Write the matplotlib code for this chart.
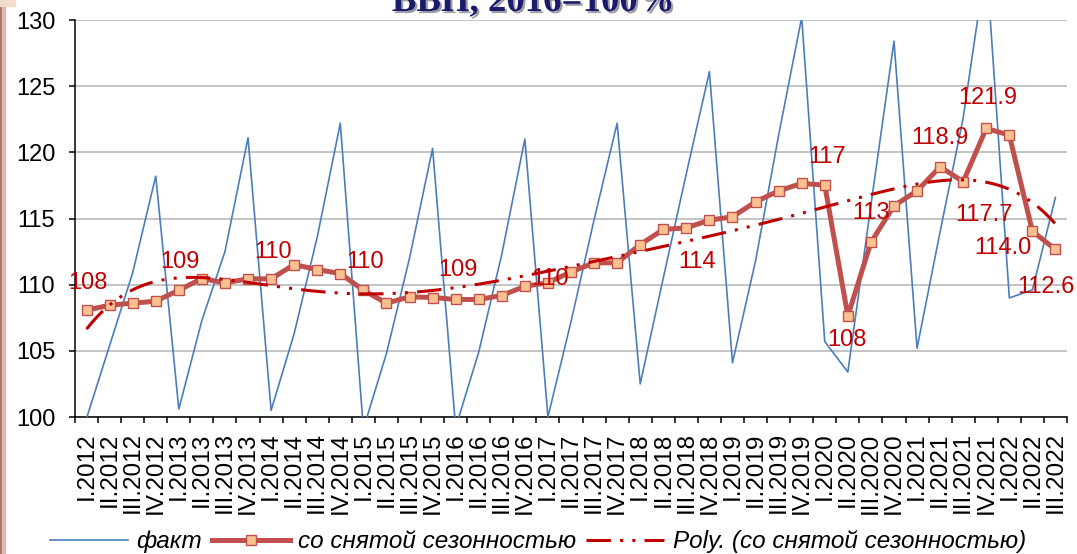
import numpy as np
import matplotlib
matplotlib.use("Agg")
import matplotlib.pyplot as plt
import matplotlib.patheffects as pe
from matplotlib.patches import Rectangle

# quarters I.2012 .. III.2022
years = list(range(2012, 2023))
roman = ["I", "II", "III", "IV"]
quarters = [r + "." + str(y) for y in years for r in roman][:43]

# actual values (факт)
fact = [99.9, 105.4, 110.9, 118.2, 100.6, 107.3, 112.5, 121.1,
        100.5, 106.3, 113.6, 122.2, 99.1, 104.8, 112.0, 120.3,
        99.2, 104.9, 112.3, 121.0, 100.0, 107.2, 114.9, 122.2,
        102.5, 110.5, 118.4, 126.1, 104.1, 111.8, 121.3, 130.2,
        105.7, 103.4, 116.0, 128.4, 105.2, 114.0, 122.6, 134.5,
        109.0, 109.6, 116.6]

# seasonally adjusted (со снятой сезонностью)
sa = [108.07, 108.45, 108.6, 108.75, 109.58, 110.46, 110.14, 110.44,
      110.44, 111.52, 111.14, 110.84, 109.58, 108.6, 109.08, 109.03,
      108.88, 108.88, 109.18, 109.88, 110.14, 110.97, 111.65, 111.65,
      113.03, 114.17, 114.3, 114.87, 115.13, 116.26, 117.09, 117.65,
      117.52, 107.64, 113.19, 115.96, 117.09, 118.91, 117.78, 121.81,
      121.3, 114.04, 112.66]

# data label texts
label_texts = ["108", "109", "110", "110", "109", "110", "114", "117",
               "108", "113", "118.9", "121.9", "117.7", "114.0", "112.6"]
# where each label sits (category position, value)
label_pos = [(0.06, 110.15), (4.05, 111.7), (8.08, 112.5), (12.07, 111.7),
             (16.08, 111.1), (20.1, 110.4), (26.46, 111.7), (32.1, 119.65),
             (32.96, 105.85), (34.0, 115.4), (37.0, 121.1), (39.07, 124.1),
             (38.9, 115.3), (39.7, 112.8), (41.6, 109.85)]

BLUE = "#4A7EBB"
RED = "#C0504D"
DARKRED = "#C00000"

plt.rcParams['font.family'] = ['Liberation Sans', 'DejaVu Sans']

fig = plt.figure(figsize=(10.77, 5.54), dpi=100)
ax = fig.add_axes([75 / 1077, 1 - 417 / 554, 992 / 1077, 397 / 554])

x = np.arange(len(quarters))
ax.plot(x, fact, color=BLUE, lw=1.2, zorder=3, label="факт")
ax.plot(x, sa, color=RED, lw=3.6, marker="s", markersize=7.5,
        markerfacecolor="#FAC090", markeredgecolor=RED, markeredgewidth=1.0,
        zorder=4, label="со снятой сезонностью")

# polynomial trendline of the seasonally adjusted series
coef = np.polyfit(x + 1, sa, 6)
xs = np.linspace(0, len(sa) - 1, 400)
ax.plot(xs, np.polyval(coef, xs + 1), color=DARKRED, lw=2.2,
        linestyle=(0, (8, 3, 1, 3, 1, 3)), zorder=5,
        label="Poly. (со снятой сезонностью)")

for t, (px, py) in zip(label_texts, label_pos):
    ax.text(px, py, t, color=DARKRED, fontsize=17, ha="center", va="center", zorder=6)

ax.set_xlim(-0.5, len(quarters) - 0.5)
ax.set_ylim(100, 130)
ax.set_yticks(range(100, 131, 5))
ax.yaxis.grid(True, color="#BFBFBF", lw=1.3)
ax.set_axisbelow(True)
for s in ["top", "right"]:
    ax.spines[s].set_visible(False)
ax.spines["left"].set_linewidth(1.1)
ax.spines["bottom"].set_linewidth(1.1)

ax.set_xticks(np.arange(-0.5, len(quarters)), labels=[])
ax.set_xticks(x, labels=quarters, minor=True, rotation=90)
ax.tick_params(axis="x", which="major", length=4.3, width=1.1, direction="out")
ax.tick_params(axis="x", which="minor", length=0, pad=11, labelsize=17.5)
ax.tick_params(axis="y", length=4.3, width=1.1, pad=10, labelsize=17)

leg = fig.legend(loc="center left", bbox_to_anchor=(28 / 1077, 0.022), ncol=3,
                 frameon=False, handlelength=3.2, handletextpad=0.36,
                 columnspacing=0.4, prop={"style": "italic", "size": 17.5})

# title, cut by the top edge
fig.text(533 / 1077, 1 - 11 / 554, "ВВП, 2016=100%", ha="center", va="baseline",
         fontsize=26.5, fontweight="bold", family="Liberation Serif", color="#1B1B6B",
         path_effects=[pe.SimplePatchShadow(offset=(1.5, -1.5), alpha=0.4), pe.Normal()])

# slide border remnants on the left
fig.patches.append(Rectangle((0, 0), 2 / 1077, 1, transform=fig.transFigure,
                             color="#A87262", zorder=0))
fig.patches.append(Rectangle((2 / 1077, 0), 3 / 1077, 1, transform=fig.transFigure,
                             color="#D9B8AE", zorder=0))
fig.patches.append(Rectangle((0, 1 - 6 / 554), 15 / 1077, 6 / 554, transform=fig.transFigure,
                             color="#F2DCCB", zorder=0))

fig.savefig("out.png", dpi=100)
